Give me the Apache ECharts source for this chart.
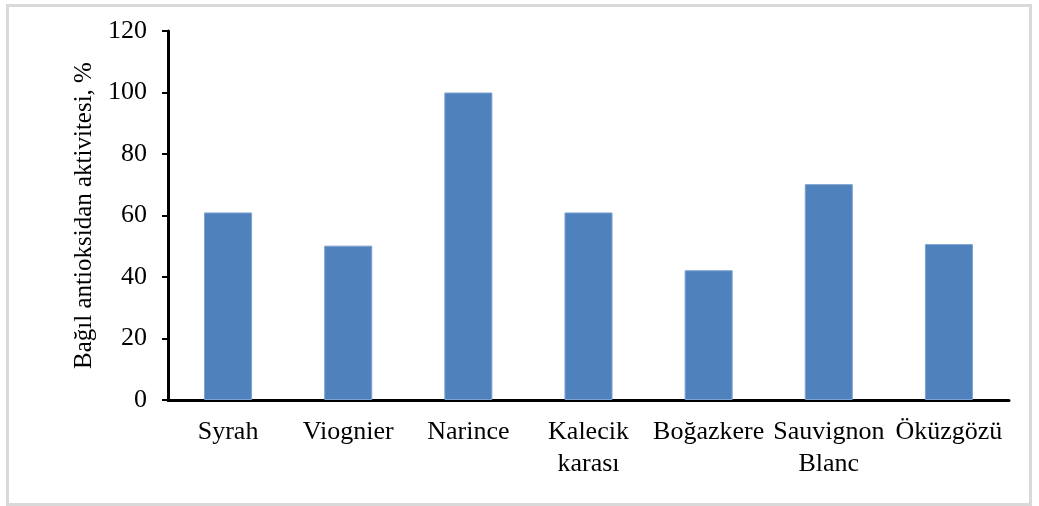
<!DOCTYPE html>
<html>
<head>
<meta charset="utf-8">
<script src="https://cdn.jsdelivr.net/npm/echarts@6/dist/echarts.min.js"></script>
<style>
html,body{margin:0;padding:0;background:#fff;}
#frame{position:absolute;left:6px;top:4px;width:1020px;height:496px;border:3px solid #d9d9d9;box-sizing:content-box;}
#chart{position:absolute;left:0;top:0;width:1039px;height:506px;}
</style>
</head>
<body>
<div id="frame"></div>
<div id="chart"></div>
<script>
const categories = ['Syrah', 'Viognier', 'Narince', 'Kalecik\nkarası', 'Boğazkere', 'Sauvignon\nBlanc', 'Öküzgözü'];
const values = [61, 50.2, 100, 61, 42.2, 70.2, 50.7];
const yTicks = {min: 0, max: 120, interval: 20};
const yName = 'Bağıl antioksidan aktivitesi, %';

const font = '"Liberation Serif", "Times New Roman", serif';
const chart = echarts.init(document.getElementById('chart'));
chart.setOption({
  animation: false,
  grid: {left: 168, right: 30, top: 31, bottom: 106},
  xAxis: {
    type: 'category',
    data: categories,
    axisLine: {lineStyle: {color: '#000', width: 3}},
    axisTick: {show: false},
    axisLabel: {color: '#000', fontFamily: font, fontSize: 26, lineHeight: 32, margin: 16, interval: 0}
  },
  yAxis: {
    type: 'value',
    min: yTicks.min, max: yTicks.max, interval: yTicks.interval,
    name: yName,
    nameLocation: 'middle',
    nameGap: 70,
    nameTextStyle: {color: '#000', fontFamily: font, fontSize: 25},
    axisLine: {show: true, lineStyle: {color: '#000', width: 3}},
    axisTick: {show: true, length: 6, lineStyle: {color: '#000', width: 2}},
    splitLine: {show: false},
    axisLabel: {color: '#000', fontFamily: font, fontSize: 26, margin: 21}
  },
  series: [{
    type: 'bar',
    data: values,
    barWidth: '40%',
    itemStyle: {color: '#4f81bd', borderColor: '#7fa3d0', borderWidth: 1}
  }]
});
</script>
</body>
</html>
